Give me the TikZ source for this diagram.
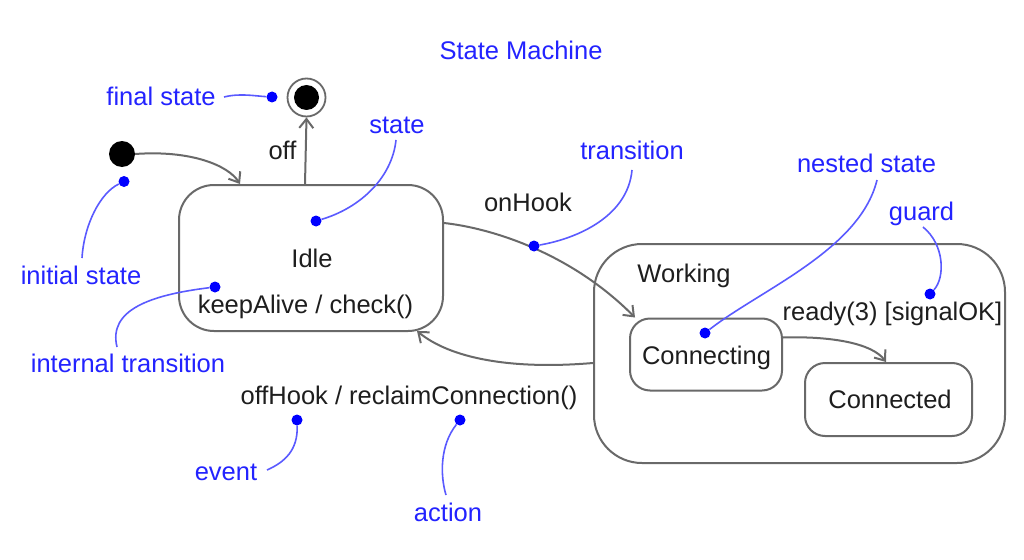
\documentclass[tikz,border=0pt]{standalone}
\usepackage{fontspec}
\setmainfont{Liberation Sans}
\usetikzlibrary{arrows.meta,calc}
\definecolor{ink}{RGB}{30,30,30}
\definecolor{edge}{RGB}{105,105,105}
\definecolor{note}{RGB}{35,35,255}
\definecolor{noteline}{RGB}{90,90,255}
\definecolor{notedot}{RGB}{0,0,255}
\begin{document}
\begin{tikzpicture}[x=1pt,y=-1pt,
  txt/.style={font=\fontsize{25.5}{30}\selectfont, text=ink, inner sep=0pt, anchor=base},
  ntxt/.style={txt, text=note},
  statebox/.style={draw=edge, line width=2pt, rectangle, inner sep=0pt},
  trans/.style={draw=edge, line width=2pt, -{Straight Barb[length=9pt,width=14pt]}},
  ndot/.style={circle, fill=notedot, minimum size=11pt, inner sep=0pt},
  nline/.style={draw=noteline, line width=1.6pt},
]
\useasboundingbox[fill=white] (0,0) rectangle (1024,559);

% states
\node[statebox, rounded corners=35pt, minimum width=264pt, minimum height=146pt] (idle) at (311,258) {};
\node[statebox, rounded corners=48pt, minimum width=411pt, minimum height=219pt] (working) at (799.5,353.5) {};
\node[statebox, rounded corners=20pt, minimum width=152pt, minimum height=72pt] (connecting) at (706,354.5) {};
\node[statebox, rounded corners=20pt, minimum width=167pt, minimum height=73pt] (connected) at (888.5,399.5) {};
\node[circle, fill=black, minimum size=26pt, inner sep=0pt] (init) at (122,154) {};
\node[circle, draw=edge, line width=1.8pt, minimum size=38pt, inner sep=0pt] (final) at (306.5,97.5) {};
\node[circle, fill=black, minimum size=25pt, inner sep=0pt] (finalin) at (306.5,97.5) {};

% state texts
\node[txt] (tidle) at (312,267) {Idle};
\node[txt] (tkeep) at (305.5,313) {keepAlive / check()};
\node[txt] (twork) at (684,282) {Working};
\node[txt] (tconing) at (706.5,364) {Connecting};
\node[txt] (tconed) at (890,408) {Connected};

% transitions
\draw[trans] (init.east) .. controls (190,150) and (228,165) .. ([xshift=62pt]idle.north west);
\draw[trans] ([xshift=127pt]idle.north west) -- (final.south);
\draw[trans] ([yshift=-39pt]idle.north east) .. controls (490,228) and (570,252) .. ([xshift=6pt]connecting.north west);
\draw[trans] ([yshift=-20pt]connecting.north east) .. controls (830,336) and (872,343) .. ([xshift=82pt]connected.north west);
\draw[trans] ([yshift=-9.5pt]working.west) .. controls (510,370) and (450,358) .. ([xshift=-27pt,yshift=1pt]idle.south east);

% transition labels
\node[txt] (loff) at (282.5,159) {off};
\node[txt] (lonhook) at (528,211) {onHook};
\node[txt] (lready) at (892.5,320) {ready(3) [signalOK]};
\node[txt] (loffhook) at (409,404) {offHook / reclaimConnection()};

% annotations
\node[ntxt] (title) at (521,60) {State Machine};

\node[ntxt] (afinal) at (161,106) {final state};
\node[ndot] (dfinal) at (272,97) {};
\coordinate (sfinal) at (224,97);
\draw[nline] (sfinal) .. controls (240,93) and (255,96) .. (dfinal);

\node[ntxt] (ainit) at (81,284) {initial state};
\node[ndot] (dinit) at (124,181.5) {};
\coordinate (sinit) at (82,258);
\draw[nline] (dinit) .. controls (100,193) and (84,225) .. (sinit);

\node[ntxt] (astate) at (397,133) {state};
\node[ndot] (dstate) at (316,221) {};
\coordinate (sstate) at (396,140);
\draw[nline] (sstate) .. controls (392,178) and (360,208) .. (dstate);

\node[ntxt] (aint) at (128,372) {internal transition};
\node[ndot] (dint) at (215,287) {};
\coordinate (sint) at (117,347);
\draw[nline] (dint) .. controls (150,295) and (108,310) .. (sint);

\node[ntxt] (atrans) at (632,159) {transition};
\node[ndot] (dtrans) at (534,246) {};
\coordinate (strans) at (632,170);
\draw[nline] (strans) .. controls (628,215) and (580,238) .. (dtrans);

\node[ntxt] (anest) at (866.5,172) {nested state};
\node[ndot] (dnest) at (705,333) {};
\coordinate (snest) at (877,180);
\draw[nline] (snest) .. controls (860,250) and (760,290) .. (dnest);

\node[ntxt] (aguard) at (921.5,220) {guard};
\node[ndot] (dguard) at (930,294) {};
\coordinate (sguard) at (923,227);
\draw[nline] (sguard) .. controls (945,245) and (945,278) .. (dguard);

\node[ntxt] (aevent) at (226,480) {event};
\node[ndot] (devent) at (297,420) {};
\coordinate (sevent) at (267,470);
\draw[nline] (devent) .. controls (298,450) and (285,462) .. (sevent);

\node[ntxt] (aaction) at (448,521) {action};
\node[ndot] (daction) at (460,420) {};
\coordinate (saction) at (446,495);
\draw[nline] (daction) .. controls (440,445) and (440,475) .. (saction);
\end{tikzpicture}
\end{document}
